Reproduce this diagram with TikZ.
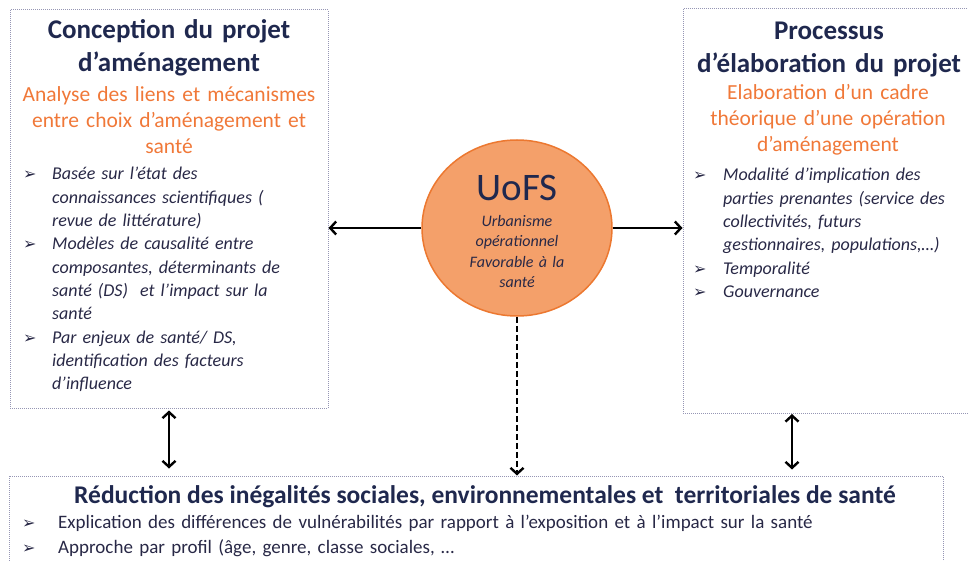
\documentclass[tikz,border=0pt]{standalone}
\usepackage{fontspec}
\setmainfont{Carlito}
\newfontfamily\pucefont{DejaVu Sans}
\usetikzlibrary{arrows.meta}
\usetikzlibrary{shapes.geometric}
\definecolor{marine}{RGB}{31,40,78}
\definecolor{encre}{RGB}{40,40,70}
\definecolor{orangetxt}{RGB}{240,120,56}
\definecolor{orangefond}{RGB}{244,160,106}
\definecolor{orangebord}{RGB}{236,120,48}
\definecolor{cadre}{RGB}{150,150,180}
\newcommand\pitem[2]{\noindent\hangindent=#1\hangafter=1\makebox[#1][l]{\pucefont\fontsize{16}{16}\selectfont\char"27A2}#2\par}
\tikzset{%
  myedge/.style={-{Straight Barb[length=6pt,width=13pt,line width=2.4pt]}, line width=2.6pt},
  mydouble/.style={{Straight Barb[length=6pt,width=13pt,line width=2.4pt]}-{Straight Barb[length=6pt,width=13pt,line width=2.4pt]}, line width=2.6pt},
  mybox/.style={rectangle, draw=cadre, densely dotted, line width=1pt, inner sep=0},
  mytitle/.style={anchor=base, inner sep=0, text width=316pt, align=center, text=marine, font=\fontsize{27}{33}\selectfont\bfseries},
  mysub/.style={anchor=base, inner sep=0, text width=316pt, align=center, text=orangetxt, font=\fontsize{21.5}{26}\selectfont},
  mylist/.style={anchor=base west, inner sep=0, text width=300pt, text=encre, font=\fontsize{18}{23.3}\selectfont\itshape}
}

\begin{document}
\begin{tikzpicture}[x=1pt,y=-1pt]
\useasboundingbox (0,0) rectangle (968,561);
\clip (0,0) rectangle (968,561);

% cadres
\node (gauche) [mybox, minimum width=318, minimum height=398] at (169,209) {};
\node (droite) [mybox, minimum width=320, minimum height=404] at (843,211) {};
\node (bas) [mybox, minimum width=934, minimum height=130] at (476,541) {};
\node (uofs) [ellipse, draw=orangebord, fill=orangefond, line width=1.5pt, minimum width=190, minimum height=176] at (517,228) {};

\node (t1) [mytitle] at (169,39) {Conception du projet\\d’aménagement};
\node (s1) [mysub] at (169,102) {Analyse des liens et mécanismes\\entre choix d’aménagement et\\santé};
\node (l1) [mylist] at (23,180) {%
  \pitem{29pt}{Basée sur l’état des\newline connaissances scientifiques (\newline revue de littérature)}%
  \pitem{29pt}{Modèles de causalité entre\newline composantes, déterminants de\newline santé (DS)\ \ et l’impact sur la\newline santé}%
  \pitem{29pt}{Par enjeux de santé/ DS,\newline identification des facteurs\newline d’influence}};

\node (t2) [mytitle] at (829,40) {Processus\\d’élaboration du projet};
\node (s2) [mysub] at (828,100) {Elaboration d’un cadre\\théorique d’une opération\\d’aménagement};
\node (l2) [mylist] at (693,181) {%
  \pitem{30pt}{Modalité d’implication des\newline parties prenantes (service des\newline collectivités, futurs\newline gestionnaires, populations,…)}%
  \pitem{30pt}{Temporalité}%
  \pitem{30pt}{Gouvernance}};

\node (sigle) [anchor=base, inner sep=0, text=marine, font=\fontsize{39}{39}\selectfont] at (517,201) {UoFS};
\node (sens) [anchor=base, inner sep=0, text width=140pt, align=center, text=encre, font=\fontsize{16}{20}\selectfont\itshape] at (517,227) {Urbanisme\\opérationnel\\Favorable à la\\santé};

\node (t3) [anchor=base, inner sep=0, text=marine, font=\fontsize{25.5}{28}\selectfont\bfseries] at (485,503) {Réduction des inégalités sociales, environnementales et\ \ territoriales de santé};
\node (l3) [anchor=base west, inner sep=0, text width=920pt, text=encre, font=\fontsize{19}{25}\selectfont] at (22,528) {%
  \pitem{36pt}{Explication des différences de vulnérabilités par rapport à l’exposition et à l’impact sur la santé}%
  \pitem{36pt}{Approche par profil (âge, genre, classe sociales, …}};

% liens
\coordinate (d1) at (792,413);
\draw [myedge] (uofs.west) -- (uofs.west -| gauche.east);
\draw [myedge] (uofs.east) -- (uofs.east -| droite.west);
\draw [myedge, dash pattern=on 6pt off 3pt] (uofs.south) -- (uofs.south |- bas.north);
\draw [mydouble, shorten >=7pt, shorten <=2pt] (gauche.south) -- (gauche.south |- bas.north);
\draw [mydouble, shorten >=6pt, shorten <=1pt] (d1) -- (d1 |- bas.north);
\end{tikzpicture}
\end{document}
